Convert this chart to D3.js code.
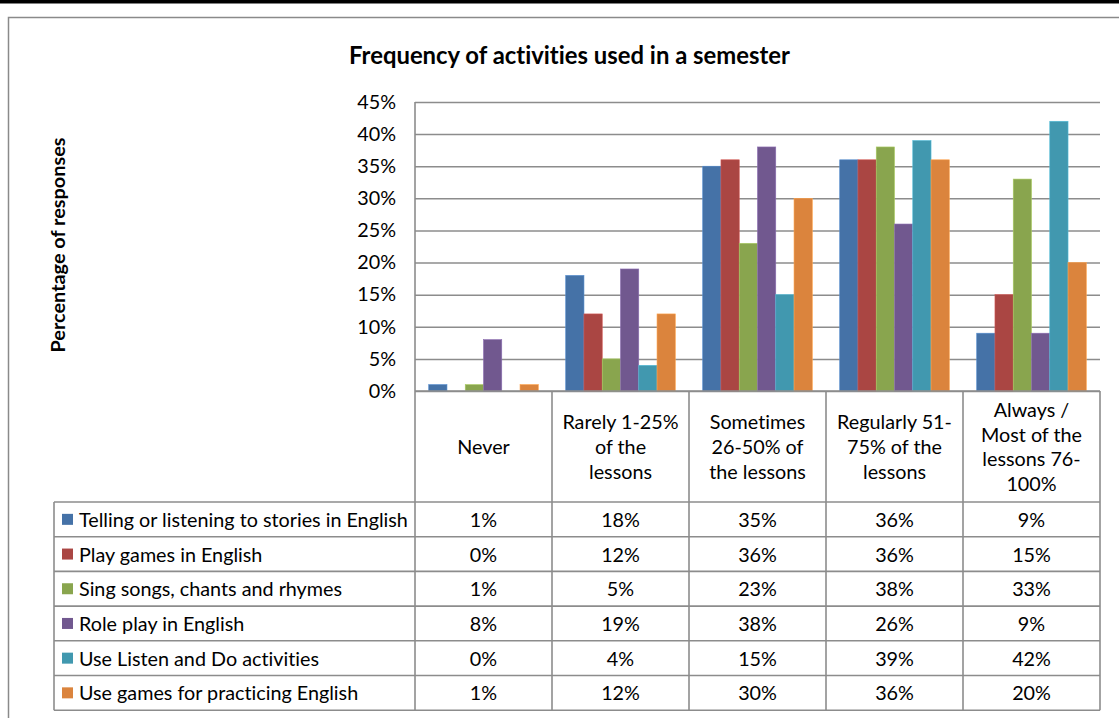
<!DOCTYPE html>
<html>
<head>
<meta charset="utf-8">
<script src="https://cdn.jsdelivr.net/npm/d3@7"></script>
<style>
  html, body { margin: 0; padding: 0; background: #fff; }
  svg { display: block; }
  text { font-family: Lato, "Liberation Sans", sans-serif; fill: #000; font-variant-ligatures: none; }
</style>
</head>
<body>
<svg id="chart" width="1119" height="718"></svg>
<script>
// ---- data ----
const categories = ["Never", "Rarely 1-25% of the lessons", "Sometimes 26-50% of the lessons", "Regularly 51-75% of the lessons", "Always / Most of the lessons 76-100%"];
const categoryLines = [
  ["Never"],
  ["Rarely 1-25%", "of the", "lessons"],
  ["Sometimes", "26-50% of", "the lessons"],
  ["Regularly 51-", "75% of the", "lessons"],
  ["Always /", "Most of the", "lessons 76-", "100%"]
];
const seriesNames = [
  "Telling or listening to stories in English",
  "Play games in English",
  "Sing songs, chants and rhymes",
  "Role play in English",
  "Use Listen and Do activities",
  "Use games for practicing English"
];
const storiesValues   = [1, 18, 35, 36, 9];
const playGamesValues = [0, 12, 36, 36, 15];
const singValues      = [1, 5, 23, 38, 33];
const rolePlayValues  = [8, 19, 38, 26, 9];
const listenDoValues  = [0, 4, 15, 39, 42];
const practiceValues  = [1, 12, 30, 36, 20];
const seriesValues = [storiesValues, playGamesValues, singValues, rolePlayValues, listenDoValues, practiceValues];
const yTicks = [0, 5, 10, 15, 20, 25, 30, 35, 40, 45];
const title = "Frequency of activities used in a semester";
const yTitle = "Percentage of responses";

// ---- style / layout ----
const colors = ["#4572A7", "#AA4643", "#89A54E", "#71588F", "#4198AF", "#DB843D"];
const gridColor = "#8c8c8c";
const plotLeft = 415, plotRight = 1100, plotTop = 102, plotBottom = 391;
const headerBottom = 502, rowH = 34.7, tableLeft = 54;

const svg = d3.select("#chart");

// measure helper to emulate Calibri widths with Lato
function fitSize(str, weight, target) {
  const t = svg.append("text").attr("font-size", 100).attr("font-weight", weight).text(str);
  const w = t.node().getComputedTextLength();
  t.remove();
  return 100 * target / w;
}
const fsBody = fitSize(seriesNames[0], "normal", 329);
const fsTitle = fitSize(title, "bold", 441);
const fsYTitle = fitSize(yTitle, "bold", 215);

// top black band + outer chart border
svg.append("rect").attr("x", 0).attr("y", 0).attr("width", 1119).attr("height", 3.5).attr("fill", "#000");
svg.append("path").attr("d", "M8.5,718 V17.5 H1119").attr("fill", "none").attr("stroke", "#8a8a8a").attr("stroke-width", 1.5);

// scales
const x0 = d3.scaleBand().domain(categories).range([plotLeft, plotRight]).paddingInner(0).paddingOuter(0);
const x1 = d3.scaleBand().domain(d3.range(seriesNames.length)).range([0, x0.bandwidth()]).paddingInner(0).paddingOuter(0.75);
const y = d3.scaleLinear().domain([0, 45]).range([plotBottom, plotTop]);

// gridlines
const yAxis = d3.axisLeft(y).tickValues(yTicks).tickSize(-(plotRight - plotLeft)).tickFormat(d => d + "%");
const gAxis = svg.append("g").attr("transform", `translate(${plotLeft},0)`).call(yAxis);
gAxis.select(".domain").remove();
gAxis.selectAll(".tick line").attr("stroke", gridColor).attr("stroke-width", 1.5);
gAxis.selectAll(".tick text").attr("x", -19).attr("font-size", fsBody).attr("fill", "#000")
  .style("font-family", "Lato, 'Liberation Sans', sans-serif");

// bars
const gBars = svg.append("g");
categories.forEach((c, ci) => {
  seriesValues.forEach((vals, si) => {
    const v = vals[ci];
    if (v <= 0) return;
    gBars.append("rect")
      .attr("x", x0(c) + x1(si))
      .attr("y", y(v))
      .attr("width", x1.bandwidth())
      .attr("height", y(0) - y(v))
      .attr("fill", colors[si])
      .attr("stroke", d3.color(colors[si]).brighter(0.6))
      .attr("stroke-width", 0.6);
  });
});

// table lines
const gT = svg.append("g").attr("stroke", gridColor).attr("stroke-width", 1.6).attr("fill", "none");
const tableBottom = headerBottom + rowH * seriesNames.length;
// vertical lines at category boundaries (table only)
categories.forEach(c => {
  gT.append("line").attr("x1", x0(c)).attr("x2", x0(c)).attr("y1", plotBottom).attr("y2", tableBottom);
});
gT.append("line").attr("x1", plotRight).attr("x2", plotRight).attr("y1", plotBottom).attr("y2", tableBottom);
// y axis line
gT.append("line").attr("x1", plotLeft).attr("x2", plotLeft).attr("y1", plotTop).attr("y2", plotBottom);
// bottom of plot
gT.append("line").attr("x1", plotLeft).attr("x2", plotRight).attr("y1", plotBottom).attr("y2", plotBottom);
// left edge of table rows
gT.append("line").attr("x1", tableLeft).attr("x2", tableLeft).attr("y1", headerBottom).attr("y2", tableBottom);
// horizontal row lines
d3.range(seriesNames.length + 1).forEach(i => {
  const yy = headerBottom + rowH * i;
  gT.append("line").attr("x1", tableLeft).attr("x2", plotRight).attr("y1", yy).attr("y2", yy);
});

// header category labels
const lineH = fsBody * 1.25;
const headerMid = (plotBottom + headerBottom) / 2;
categories.forEach((c, ci) => {
  const lines = categoryLines[ci];
  const cx = x0(c) + x0.bandwidth() / 2;
  lines.forEach((ln, li) => {
    svg.append("text")
      .attr("x", cx)
      .attr("y", headerMid + (li - (lines.length - 1) / 2) * lineH)
      .attr("text-anchor", "middle")
      .attr("dominant-baseline", "central")
      .attr("font-size", fsBody)
      .text(ln);
  });
});

// table rows
seriesNames.forEach((name, si) => {
  const cy = headerBottom + rowH * si + rowH / 2;
  svg.append("rect").attr("x", 62).attr("y", cy - 5.5).attr("width", 11).attr("height", 11).attr("fill", colors[si]);
  svg.append("text").attr("x", 79).attr("y", cy).attr("dominant-baseline", "central")
    .attr("font-size", fsBody).text(name);
  categories.forEach((c, ci) => {
    svg.append("text")
      .attr("x", x0(c) + x0.bandwidth() / 2)
      .attr("y", cy)
      .attr("text-anchor", "middle")
      .attr("dominant-baseline", "central")
      .attr("font-size", fsBody)
      .text(seriesValues[si][ci] + "%");
  });
});

// titles
svg.append("text").attr("x", 569.5).attr("y", 54).attr("text-anchor", "middle").attr("dominant-baseline", "central")
  .attr("font-size", fsTitle).attr("font-weight", "bold").text(title);
svg.append("text").attr("transform", "translate(57,245) rotate(-90)").attr("text-anchor", "middle")
  .attr("dominant-baseline", "central").attr("font-size", fsYTitle).attr("font-weight", "bold").text(yTitle);
</script>
</body>
</html>
